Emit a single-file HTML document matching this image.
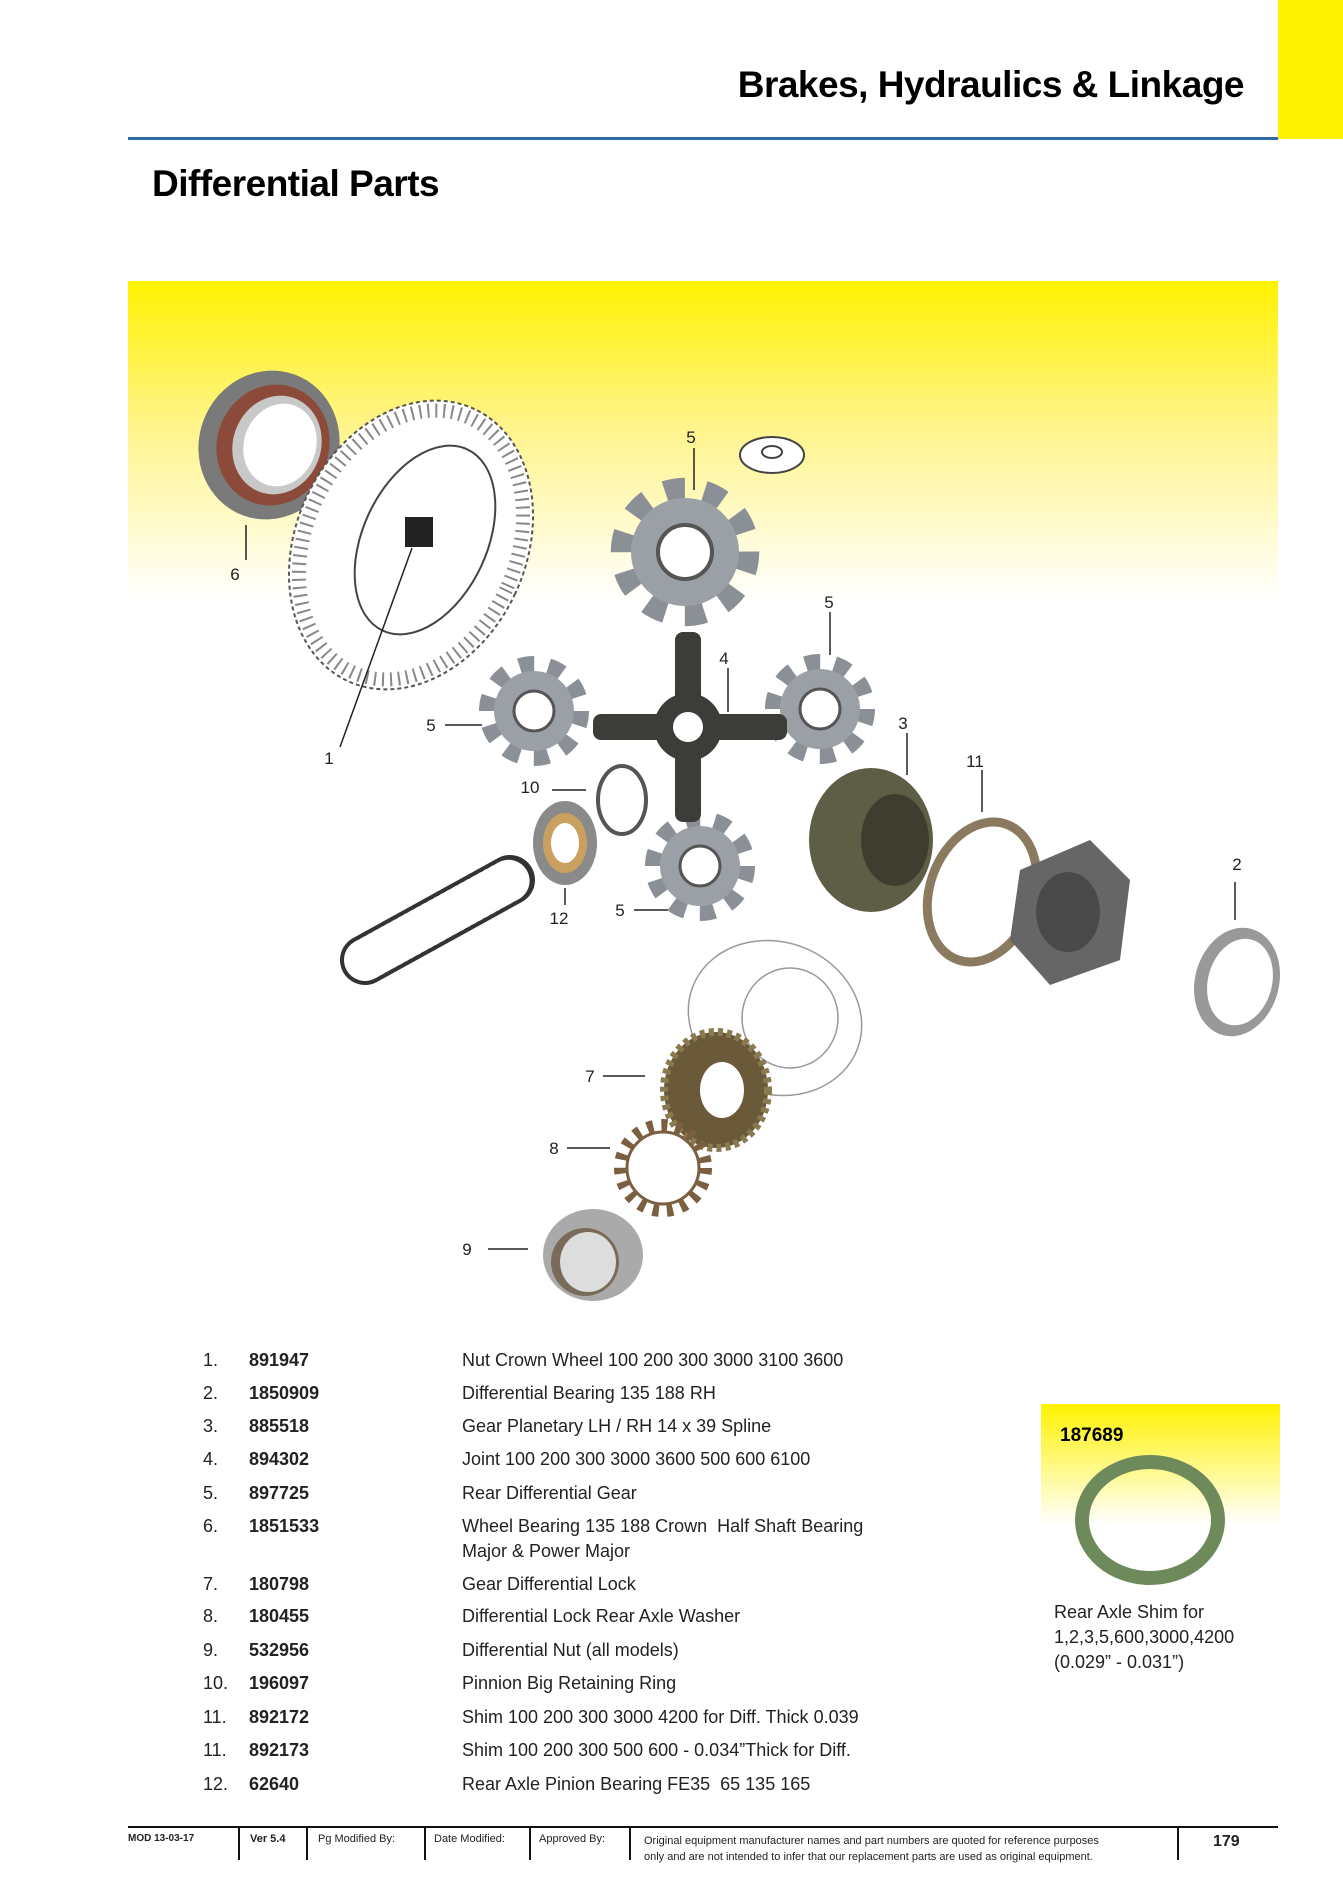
<!DOCTYPE html>
<html><head><meta charset="utf-8"><style>
body{margin:0;width:1343px;height:1899px;position:relative;background:#fff;font-family:"Liberation Sans",sans-serif;overflow:hidden}
.a{position:absolute;white-space:nowrap}
.row{position:absolute;font-size:18px;color:#222}
.row b{font-weight:bold}
.ft{position:absolute;top:1833px;font-size:11px;color:#222}
.vl{position:absolute;top:1828px;height:32px;border-left:2px solid #111}
</style></head><body>
<div class="a" style="left:1278px;top:0;width:65px;height:139px;background:#fff200"></div>
<div class="a" style="left:128px;top:137px;width:1150px;height:3px;background:#2e6aa8"></div>
<div class="a" style="right:99px;top:64px;font-size:37px;font-weight:bold;letter-spacing:-0.5px">Brakes, Hydraulics &amp; Linkage</div>
<div class="a" style="left:152px;top:163px;font-size:37px;font-weight:bold;letter-spacing:-0.5px">Differential Parts</div>
<div class="a" style="left:128px;top:281px;width:1150px;height:320px;background:linear-gradient(#fff200 0%,#fff48a 45%,#fff 100%)"></div>

<svg class="a" style="left:0;top:0" width="1343" height="1899">
<defs>
<g id="gear"><circle r="44" fill="none" stroke="#8a9096" stroke-width="22" stroke-dasharray="14 13.6"/><circle r="40" fill="#9aa0a6"/><circle r="20" fill="#fff" stroke="#555" stroke-width="3"/></g>
</defs>
<!-- bearing 6 -->
<ellipse cx="269" cy="445" rx="70" ry="75" fill="#7a7a7a" transform="rotate(20 269 445)"/>
<ellipse cx="273" cy="445" rx="56" ry="61" fill="#8b4a3a" transform="rotate(20 273 445)"/>
<ellipse cx="277" cy="445" rx="44" ry="50" fill="#c8c8c8" transform="rotate(20 277 445)"/>
<ellipse cx="280" cy="445" rx="36" ry="42" fill="#fff" transform="rotate(20 280 445)"/>
<!-- crown wheel -->
<ellipse cx="411" cy="545" rx="115" ry="150" fill="#fff" stroke="#555" stroke-width="2" stroke-dasharray="4 3" transform="rotate(25 411 545)"/>
<ellipse cx="411" cy="545" rx="105" ry="140" fill="none" stroke="#888" stroke-width="14" stroke-dasharray="2 6" transform="rotate(25 411 545)"/>
<ellipse cx="425" cy="540" rx="62" ry="100" fill="#fff" stroke="#444" stroke-width="2" transform="rotate(25 425 540)"/>
<rect x="405" y="517" width="28" height="30" fill="#222"/>
<line x1="412" y1="548" x2="340" y2="747" stroke="#222" stroke-width="1.5"/>
<line x1="246" y1="525" x2="246" y2="560" stroke="#222" stroke-width="1.5"/>
<!-- washer -->
<ellipse cx="772" cy="455" rx="32" ry="18" fill="#fff" stroke="#444" stroke-width="2"/>
<ellipse cx="772" cy="452" rx="10" ry="6" fill="none" stroke="#444" stroke-width="2"/>
<!-- gears -->
<use href="#gear" transform="translate(685,552) scale(1.35)"/>
<use href="#gear" transform="translate(534,711)"/>
<use href="#gear" transform="translate(820,709)"/>
<use href="#gear" transform="translate(700,866)"/>
<!-- cross -->
<rect x="593" y="714" width="194" height="26" rx="8" fill="#3c3c38"/>
<rect x="675" y="632" width="26" height="190" rx="8" fill="#3c3c38"/>
<circle cx="688" cy="727" r="34" fill="#3c3c38"/><circle cx="688" cy="727" r="15" fill="#fff"/>
<!-- ring 10 -->
<ellipse cx="622" cy="800" rx="24" ry="34" fill="none" stroke="#555" stroke-width="4"/>
<!-- bearing 12 -->
<ellipse cx="565" cy="843" rx="32" ry="42" fill="#8a8a8a"/><ellipse cx="565" cy="843" rx="22" ry="30" fill="#c9a060"/><ellipse cx="565" cy="843" rx="14" ry="20" fill="#fff"/>
<!-- pinion shaft -->
<line x1="365" y1="960" x2="510" y2="880" stroke="#333" stroke-width="50" stroke-linecap="round"/>
<line x1="365" y1="960" x2="510" y2="880" stroke="#fff" stroke-width="42" stroke-linecap="round" stroke-dasharray="3 4"/>
<!-- gear 3 -->
<ellipse cx="871" cy="840" rx="62" ry="72" fill="#5e5e46"/>
<ellipse cx="895" cy="840" rx="34" ry="46" fill="#3e3e30"/>
<!-- shim 11 -->
<ellipse cx="982" cy="892" rx="52" ry="72" fill="none" stroke="#8a7a60" stroke-width="9" transform="rotate(20 982 892)"/>
<!-- flange -->
<polygon points="1020,870 1090,840 1130,880 1120,960 1050,985 1010,940" fill="#666"/>
<ellipse cx="1068" cy="912" rx="32" ry="40" fill="#4a4a4a"/>
<!-- bearing 2 -->
<ellipse cx="1237" cy="982" rx="42" ry="55" fill="#999" transform="rotate(15 1237 982)"/>
<ellipse cx="1240" cy="982" rx="32" ry="44" fill="#fff" transform="rotate(15 1240 982)"/>
<!-- housing -->
<ellipse cx="775" cy="1018" rx="88" ry="76" fill="none" stroke="#999" stroke-width="1.5" transform="rotate(20 775 1018)"/>
<ellipse cx="790" cy="1018" rx="48" ry="50" fill="none" stroke="#999" stroke-width="1.5"/>
<!-- gear 7 -->
<ellipse cx="716" cy="1090" rx="52" ry="58" fill="#6a5a3a" stroke="#8a7a50" stroke-width="8" stroke-dasharray="5 4"/>
<ellipse cx="722" cy="1090" rx="22" ry="28" fill="#fff"/>
<!-- washer 8 -->
<circle cx="663" cy="1168" r="42" fill="none" stroke="#7a6040" stroke-width="14" stroke-dasharray="6 8"/>
<circle cx="663" cy="1168" r="36" fill="none" stroke="#7a6040" stroke-width="3"/>
<!-- nut 9 -->
<ellipse cx="593" cy="1255" rx="50" ry="46" fill="#aaa"/><ellipse cx="585" cy="1262" rx="34" ry="34" fill="#7a6a5a"/><ellipse cx="588" cy="1262" rx="28" ry="30" fill="#ddd"/>
<!-- leaders -->
<g stroke="#222" stroke-width="1.5">
<line x1="694" y1="448" x2="694" y2="490"/>
<line x1="830" y1="612" x2="830" y2="655"/>
<line x1="728" y1="668" x2="728" y2="712"/>
<line x1="445" y1="725" x2="482" y2="725"/>
<line x1="907" y1="733" x2="907" y2="775"/>
<line x1="982" y1="770" x2="982" y2="812"/>
<line x1="552" y1="790" x2="586" y2="790"/>
<line x1="1235" y1="882" x2="1235" y2="920"/>
<line x1="565" y1="888" x2="565" y2="905"/>
<line x1="634" y1="910" x2="668" y2="910"/>
<line x1="603" y1="1076" x2="645" y2="1076"/>
<line x1="567" y1="1148" x2="610" y2="1148"/>
<line x1="488" y1="1249" x2="528" y2="1249"/>
</g>
<g font-size="17" fill="#222" font-family="Liberation Sans,sans-serif" text-anchor="middle">
<text x="691" y="443">5</text><text x="235" y="580">6</text><text x="829" y="608">5</text>
<text x="724" y="664">4</text><text x="431" y="731">5</text><text x="903" y="729">3</text>
<text x="329" y="764">1</text><text x="975" y="767">11</text><text x="530" y="793">10</text>
<text x="1237" y="870">2</text><text x="559" y="924">12</text><text x="620" y="916">5</text>
<text x="590" y="1082">7</text><text x="554" y="1154">8</text><text x="467" y="1255">9</text>
</g>
</svg>

<div class="row" style="top:1350px;left:203px">1.</div><div class="row" style="top:1350px;left:249px"><b>891947</b></div><div class="row" style="top:1350px;left:462px">Nut Crown Wheel 100 200 300 3000 3100 3600</div>
<div class="row" style="top:1383px;left:203px">2.</div><div class="row" style="top:1383px;left:249px"><b>1850909</b></div><div class="row" style="top:1383px;left:462px">Differential Bearing 135 188 RH</div>
<div class="row" style="top:1416px;left:203px">3.</div><div class="row" style="top:1416px;left:249px"><b>885518</b></div><div class="row" style="top:1416px;left:462px">Gear Planetary LH / RH 14 x 39 Spline</div>
<div class="row" style="top:1449px;left:203px">4.</div><div class="row" style="top:1449px;left:249px"><b>894302</b></div><div class="row" style="top:1449px;left:462px">Joint 100 200 300 3000 3600 500 600 6100</div>
<div class="row" style="top:1483px;left:203px">5.</div><div class="row" style="top:1483px;left:249px"><b>897725</b></div><div class="row" style="top:1483px;left:462px">Rear Differential Gear</div>
<div class="row" style="top:1516px;left:203px">6.</div><div class="row" style="top:1516px;left:249px"><b>1851533</b></div><div class="row" style="top:1516px;left:462px">Wheel Bearing 135 188 Crown&nbsp; Half Shaft Bearing</div>
<div class="row" style="top:1541px;left:462px">Major &amp; Power Major</div>
<div class="row" style="top:1574px;left:203px">7.</div><div class="row" style="top:1574px;left:249px"><b>180798</b></div><div class="row" style="top:1574px;left:462px">Gear Differential Lock</div>
<div class="row" style="top:1606px;left:203px">8.</div><div class="row" style="top:1606px;left:249px"><b>180455</b></div><div class="row" style="top:1606px;left:462px">Differential Lock Rear Axle Washer</div>
<div class="row" style="top:1640px;left:203px">9.</div><div class="row" style="top:1640px;left:249px"><b>532956</b></div><div class="row" style="top:1640px;left:462px">Differential Nut (all models)</div>
<div class="row" style="top:1673px;left:203px">10.</div><div class="row" style="top:1673px;left:249px"><b>196097</b></div><div class="row" style="top:1673px;left:462px">Pinnion Big Retaining Ring</div>
<div class="row" style="top:1707px;left:203px">11.</div><div class="row" style="top:1707px;left:249px"><b>892172</b></div><div class="row" style="top:1707px;left:462px">Shim 100 200 300 3000 4200 for Diff. Thick 0.039</div>
<div class="row" style="top:1740px;left:203px">11.</div><div class="row" style="top:1740px;left:249px"><b>892173</b></div><div class="row" style="top:1740px;left:462px">Shim 100 200 300 500 600 - 0.034”Thick for Diff.</div>
<div class="row" style="top:1774px;left:203px">12.</div><div class="row" style="top:1774px;left:249px"><b>62640</b></div><div class="row" style="top:1774px;left:462px">Rear Axle Pinion Bearing FE35&nbsp; 65 135 165</div>

<div class="a" style="left:1041px;top:1404px;width:239px;height:120px;background:linear-gradient(#fff200,#fff)"></div>
<div class="a" style="left:1060px;top:1425px;font-size:19px;font-weight:bold">187689</div>
<svg class="a" style="left:1060px;top:1448px" width="180" height="145"><ellipse cx="90" cy="72" rx="68" ry="58" fill="none" stroke="#6f8a5a" stroke-width="14"/></svg>
<div class="a" style="left:1054px;top:1600px;font-size:18px;line-height:25px;color:#222">Rear Axle Shim for<br>1,2,3,5,600,3000,4200<br>(0.029” - 0.031”)</div>

<div class="a" style="left:128px;top:1826px;width:1150px;height:2px;background:#111"></div>
<div class="ft" style="left:128px;font-weight:bold;font-size:10px">MOD 13-03-17</div>
<div class="vl" style="left:238px"></div><div class="ft" style="left:250px;font-weight:bold">Ver 5.4</div>
<div class="vl" style="left:306px"></div><div class="ft" style="left:318px">Pg Modified By:</div>
<div class="vl" style="left:424px"></div><div class="ft" style="left:434px">Date Modified:</div>
<div class="vl" style="left:529px"></div><div class="ft" style="left:539px">Approved By:</div>
<div class="vl" style="left:629px"></div><div class="ft" style="left:644px;line-height:16px">Original equipment manufacturer names and part numbers are quoted for reference purposes<br>only and are not intended to infer that our replacement parts are used as original equipment.</div>
<div class="vl" style="left:1177px"></div><div class="ft" style="left:1213px;font-size:16px;font-weight:bold">179</div>
</body></html>
